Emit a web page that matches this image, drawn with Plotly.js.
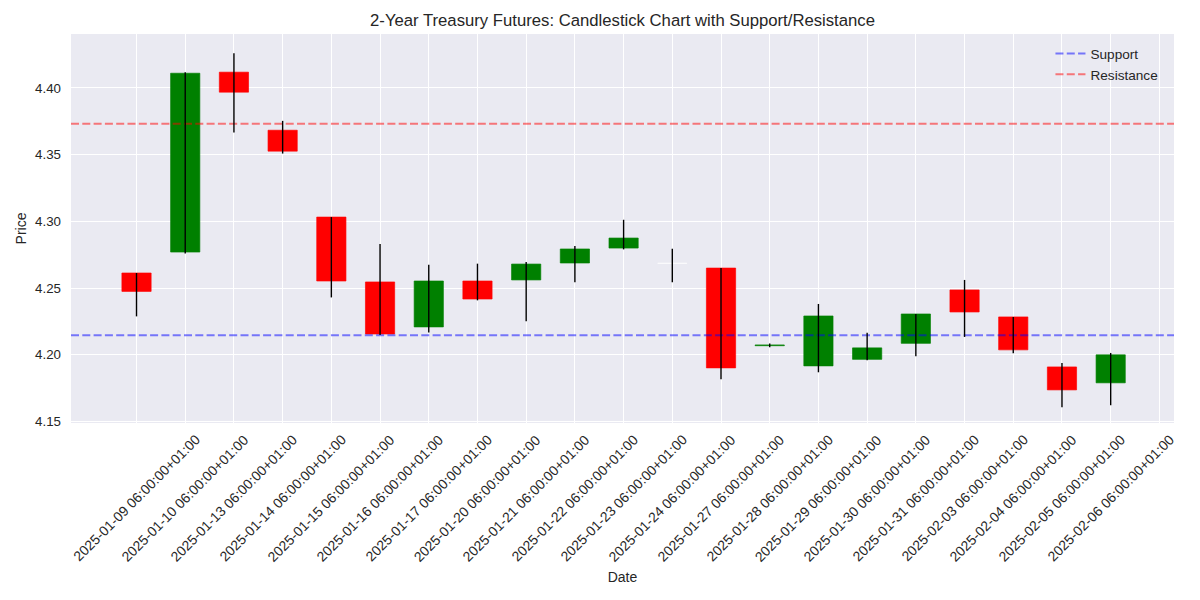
<!DOCTYPE html>
<html>
<head>
<meta charset="utf-8">
<script src="https://cdn.plot.ly/plotly-3.0.1.min.js"></script>
<style>html,body{margin:0;padding:0;background:#fff;}#chart{width:1200px;height:600px;}</style>
</head>
<body>
<div id="chart"></div>
<script>
const dates = [
  "2025-01-09 06:00:00+01:00", "2025-01-10 06:00:00+01:00", "2025-01-13 06:00:00+01:00",
  "2025-01-14 06:00:00+01:00", "2025-01-15 06:00:00+01:00", "2025-01-16 06:00:00+01:00",
  "2025-01-17 06:00:00+01:00", "2025-01-20 06:00:00+01:00", "2025-01-21 06:00:00+01:00",
  "2025-01-22 06:00:00+01:00", "2025-01-23 06:00:00+01:00", "2025-01-24 06:00:00+01:00",
  "2025-01-27 06:00:00+01:00", "2025-01-28 06:00:00+01:00", "2025-01-29 06:00:00+01:00",
  "2025-01-30 06:00:00+01:00", "2025-01-31 06:00:00+01:00", "2025-02-03 06:00:00+01:00",
  "2025-02-04 06:00:00+01:00", "2025-02-05 06:00:00+01:00", "2025-02-06 06:00:00+01:00"
];
const opens  = [4.2613, 4.2770, 4.4118, 4.3683, 4.3032, 4.2546, 4.2209, 4.2553, 4.2561, 4.2688, 4.2800,
                4.2685, 4.2650, 4.2068, 4.1917, 4.1966, 4.2086, 4.2486, 4.2284, 4.1909, 4.1790];
const highs  = [4.2613, 4.4118, 4.4260, 4.3753, 4.3032, 4.2830, 4.2675, 4.2683, 4.2695, 4.2815, 4.3012,
                4.2795, 4.2650, 4.2084, 4.2381, 4.2166, 4.2306, 4.2561, 4.2284, 4.1939, 4.2014];
const lows   = [4.2288, 4.2760, 4.3665, 4.3508, 4.2430, 4.2149, 4.2168, 4.2408, 4.2251, 4.2543, 4.2790,
                4.2543, 4.1817, 4.2056, 4.1869, 4.1959, 4.1989, 4.2134, 4.2011, 4.1607, 4.1622];
const closes = [4.2475, 4.4110, 4.3968, 4.3526, 4.2553, 4.2156, 4.2553, 4.2418, 4.2680, 4.2793, 4.2875,
                4.2685, 4.1902, 4.2074, 4.2291, 4.2052, 4.2306, 4.2321, 4.2037, 4.1737, 4.2000];
const supportLevel = 4.2146;
const resistanceLevel = 4.3731;
const yTicks = [4.15, 4.20, 4.25, 4.30, 4.35, 4.40];

const XR = [-1.345, 21.30];
const YR = [4.1489, 4.4404];
const FONT = "Liberation Sans, Arial, sans-serif";
const TXT = "#262626";

const idx = dates.map((d, i) => i);
const bodyColor = idx.map(i => closes[i] > opens[i] ? "#008000" : (closes[i] < opens[i] ? "#ff0000" : "rgba(255,255,255,0.7)"));
const edgeColor = idx.map(i => closes[i] > opens[i] ? "rgba(0,128,0,0.65)" : (closes[i] < opens[i] ? "rgba(255,0,0,0.65)" : "rgba(255,255,255,0.6)"));

const bodies = {
  type: "bar",
  x: idx,
  base: idx.map(i => Math.min(opens[i], closes[i])),
  y: idx.map(i => Math.max(Math.abs(closes[i] - opens[i]), 0.0002)),
  width: 0.6,
  marker: {color: bodyColor, line: {color: edgeColor, width: 1}},
  showlegend: false,
  hoverinfo: "skip"
};

const wx = [], wy = [];
idx.forEach(i => { wx.push(i, i, null); wy.push(lows[i], highs[i], null); });
const wicks = {
  type: "scatter", mode: "lines", x: wx, y: wy,
  line: {color: "#000000", width: 1.4},
  showlegend: false, hoverinfo: "skip"
};

const support = {
  type: "scatter", mode: "lines", name: "Support",
  x: XR, y: [supportLevel, supportLevel],
  line: {color: "rgba(0,0,255,0.5)", width: 2, dash: "8px,3.3px"}
};
const resistance = {
  type: "scatter", mode: "lines", name: "Resistance",
  x: XR, y: [resistanceLevel, resistanceLevel],
  line: {color: "rgba(255,0,0,0.5)", width: 2, dash: "8px,3.3px"}
};

const xTickVals = dates.map((d, i) => i).concat([dates.length]);

const dateAnnotations = idx.map(i => ({
  x: i, xref: "x", y: 0, yref: "paper",
  xanchor: "center", yanchor: "top", yshift: -6,
  text: dates[i], textangle: -45, showarrow: false,
  font: {family: FONT, size: 13.9, color: TXT}
}));

const layout = {
  width: 1200, height: 600,
  margin: {l: 71, r: 26, t: 34, b: 177},
  paper_bgcolor: "#ffffff",
  plot_bgcolor: "#EAEAF2",
  font: {family: FONT, color: TXT, size: 13.3},
  title: {text: "2-Year Treasury Futures: Candlestick Chart with Support/Resistance",
          font: {family: FONT, size: 16.7, color: TXT}, x: 0.5, xref: "paper", xanchor: "center",
          y: 0.966, yref: "container", yanchor: "middle"},
  xaxis: {
    range: XR, tickvals: xTickVals, showticklabels: false, ticks: "",
    showgrid: true, gridcolor: "#ffffff", gridwidth: 1, zeroline: false, showline: false,
    title: {text: "Date", font: {family: FONT, size: 14, color: TXT}, standoff: 149}
  },
  yaxis: {
    range: YR, tickvals: yTicks, tickformat: ".2f", ticks: "", ticklabelstandoff: 9,
    showgrid: true, gridcolor: "#ffffff", gridwidth: 1, zeroline: false, showline: false,
    tickfont: {family: FONT, size: 13.3, color: TXT},
    title: {text: "Price", font: {family: FONT, size: 14, color: TXT}, standoff: 5}
  },
  legend: {x: 0.888, y: 0.989, xanchor: "left", yanchor: "top", bgcolor: "rgba(0,0,0,0)",
           font: {family: FONT, size: 13.6, color: TXT}},
  annotations: dateAnnotations,
  bargap: 0,
  showlegend: true
};

Plotly.newPlot("chart", [bodies, support, resistance, wicks], layout, {displayModeBar: false, staticPlot: true});
</script>
</body>
</html>
